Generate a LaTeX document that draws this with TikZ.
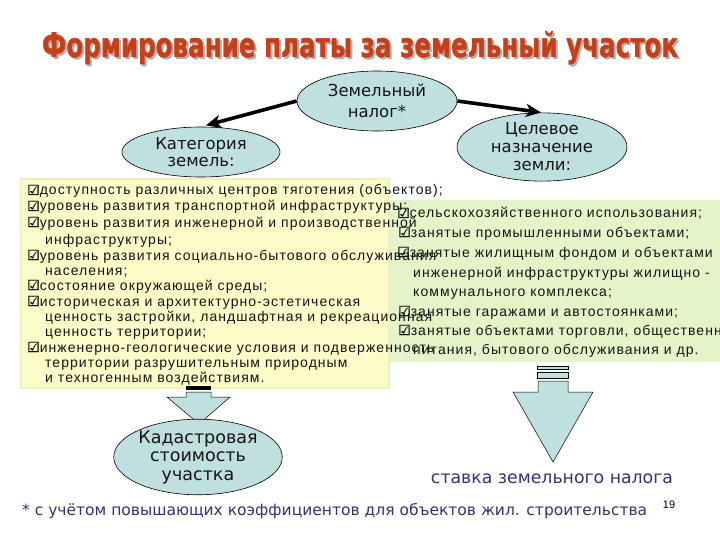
\documentclass[tikz,border=0pt]{standalone}
\usepackage{fontspec}
\usetikzlibrary{shapes.geometric,arrows.meta}
\setmainfont{Liberation Sans}
\newfontfamily\dvs{DejaVu Sans}
\newfontfamily\titlef[FakeBold=1.2]{DejaVu Sans}
\newfontfamily\listf[LetterSpace=7.5]{Liberation Sans}
\newfontfamily\cbf[FakeBold=0.6]{DejaVu Sans}
\newfontfamily\notef{DejaVu Sans}
\definecolor{ellfill}{RGB}{192,224,224}
\definecolor{ybox}{RGB}{252,252,200}
\definecolor{yedge}{RGB}{240,240,185}
\definecolor{gbox}{RGB}{228,244,200}
\definecolor{titlecol}{RGB}{200,62,22}
\definecolor{navy}{RGB}{50,50,120}
\definecolor{inktext}{RGB}{20,20,20}
\newcommand{\cbx}{{\cbf\fontsize{14}{14}\selectfont ☑}}
\newcommand{\mytitle}{\resizebox{636pt}{26pt}{\titlef\bfseries Формирование платы за земельный участок}}
\begin{document}
\begin{tikzpicture}[x=1pt,y=-1pt,
  ell/.style={ellipse, draw=black, line width=0.6pt, fill=ellfill, inner sep=0pt, align=center, text=inktext},
  bigarrow/.style={line width=3.6pt, -{Stealth[length=15pt,width=13pt,inset=4pt]}},
  li/.style={anchor=base west, inner sep=0pt, text=inktext, font=\listf\fontsize{14}{15}\selectfont},
  blockar/.style={fill=ellfill, draw=black, line width=0.5pt}]
\useasboundingbox (0,0) rectangle (720,540);
\fill[white] (0,0) rectangle (720,540);
% title
\node[anchor=base, inner sep=0pt, text=black!30] (tshadow) at (362,59) {\mytitle};
\node[anchor=base, inner sep=0pt, text=titlecol] (title) at (360,57) {\mytitle};
% boxes
\fill[ybox, draw=yedge, line width=2pt] (21,179) rectangle (389,388);
\fill[gbox] (390,200) rectangle (720,362);
% block arrows
\fill[black] (186,386) rectangle (211,390);
\draw[blockar] (186,392) -- (211,392) -- (211,397) -- (230,397) -- (199,424) -- (167,397) -- (186,397) -- cycle;
\draw[blockar] (537,366) rectangle (568,369);
\draw[blockar] (537,372) rectangle (568,378);
\draw[blockar] (538,381) -- (568,381) -- (568,392) -- (593,392) -- (553,462) -- (513,392) -- (538,392) -- cycle;
% ellipses
\node[ell, minimum width=160pt, minimum height=60pt, font=\dvs\fontsize{16.5}{21}\selectfont] (nalog) at (377,101) {Земельный\\налог*};
\node[ell, minimum width=158pt, minimum height=50pt, font=\dvs\fontsize{16.5}{17}\selectfont] (kat) at (201,152) {Категория\\земель:};
\node[ell, minimum width=170pt, minimum height=62pt, font=\dvs\fontsize{16.5}{18}\selectfont] (cel) at (542,147) {Целевое\\назначение\\земли:};
\node[ell, minimum width=163pt, minimum height=70pt, font=\dvs\fontsize{17.5}{18.5}\selectfont] (kad) at (198,457) {Кадастровая\\стоимость\\участка};
\draw[bigarrow, shorten >=5pt] (nalog.west) -- (kat.north);
\draw[bigarrow, shorten >=1pt] (nalog.east) -- (cel.north);
% left list
\node[li] (l1) at (27,195) {\cbx доступность различных центров тяготения (объектов);};
\node[li] (l2) at (27,211) {\cbx уровень развития транспортной инфраструктуры;};
\node[li] (l3) at (27,227) {\cbx уровень развития инженерной и производственной};
\node[li] (l4) at (45,244) {инфраструктуры;};
\node[li] (l5) at (27,260) {\cbx уровень развития социально-бытового обслуживания};
\node[li] (l6) at (45,275) {населения;};
\node[li] (l7) at (27,290) {\cbx состояние окружающей среды;};
\node[li] (l8) at (27,306) {\cbx историческая и архитектурно-эстетическая};
\node[li] (l9) at (45,321) {ценность застройки, ландшафтная и рекреационная};
\node[li] (l10) at (45,336) {ценность территории;};
\node[li] (l11) at (27,352) {\cbx инженерно-геологические условия и подверженность};
\node[li] (l12) at (45,367) {территории разрушительным природным};
\node[li] (l13) at (45,382) {и техногенным воздействиям.};
% right list
\node[li] (r1) at (397,218) {\cbx сельскохозяйственного использования;};
\node[li] (r2) at (398,237) {\cbx занятые промышленными объектами;};
\node[li] (r3) at (397,257) {\cbx занятые жилищным фондом и объектами};
\node[li] (r4) at (413,277) {инженерной инфраструктуры жилищно -};
\node[li] (r5) at (413,296) {коммунального комплекса;};
\node[li] (r6) at (398,316) {\cbx занятые гаражами и автостоянками;};
\node[li] (r7) at (398,335) {\cbx занятые объектами торговли, общественного};
\node[li] (r8) at (413,354) {питания, бытового обслуживания и др.};
% bottom texts
\node[anchor=base, inner sep=0pt, text=navy, font=\dvs\fontsize{17.3}{19}\selectfont] (stavka) at (552,483) {ставка земельного налога};
\node[anchor=base west, inner sep=0pt, text=navy, font=\notef\fontsize{15.5}{18}\selectfont] (note) at (22,515) {* с учётом повышающих коэффициентов для объектов жил. строительства};
\node[anchor=base, inner sep=0pt, text=black, font=\fontsize{11}{12}\selectfont] (pg) at (669,508) {19};
\end{tikzpicture}
\end{document}
